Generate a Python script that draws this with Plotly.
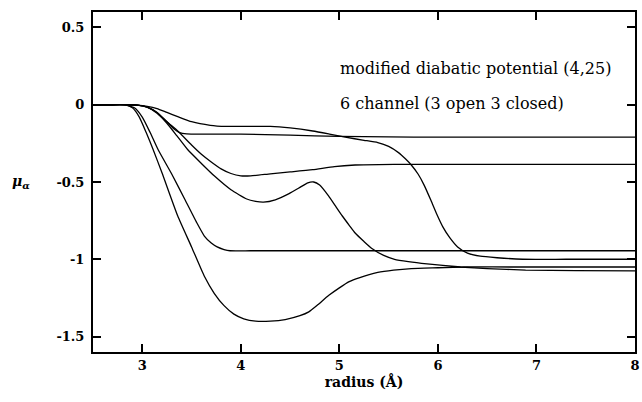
import plotly.graph_objects as go

# Curve data (radius in Å, mu_alpha)
c1_x = [2.5, 2.7, 2.85, 2.95, 3.05, 3.15, 3.25, 3.36, 3.5, 3.69, 3.85, 4.0, 4.3, 4.5, 4.73, 4.9, 5.06, 5.25, 5.39, 5.5, 5.6, 5.67, 5.73, 5.8, 5.86, 5.93, 5.99, 6.05, 6.12, 6.2, 6.3, 6.43, 6.6, 6.86, 7.3, 8.0]
c1_y = [0, 0, 0, -0.002, -0.01, -0.025, -0.05, -0.077, -0.11, -0.133, -0.14, -0.14, -0.14, -0.15, -0.17, -0.19, -0.21, -0.23, -0.245, -0.27, -0.31, -0.35, -0.39, -0.45, -0.52, -0.62, -0.71, -0.79, -0.86, -0.92, -0.96, -0.98, -0.99, -1.0, -1.0, -1.0]

c2_x = [2.5, 2.7, 2.85, 2.95, 3.05, 3.15, 3.25, 3.32, 3.38, 3.45, 3.6, 4.0, 4.5, 5.0, 5.5, 6.0, 7.0, 8.0]
c2_y = [0, 0, 0, -0.002, -0.015, -0.05, -0.11, -0.155, -0.18, -0.188, -0.19, -0.19, -0.197, -0.205, -0.208, -0.21, -0.21, -0.21]

c3_x = [2.5, 2.7, 2.85, 2.95, 3.05, 3.15, 3.25, 3.36, 3.5, 3.6, 3.7, 3.8, 3.9, 4.0, 4.1, 4.3, 4.5, 4.73, 4.95, 5.16, 5.4, 5.7, 6.5, 7.3, 8.0]
c3_y = [0, 0, 0, -0.002, -0.015, -0.05, -0.11, -0.17, -0.26, -0.32, -0.37, -0.415, -0.445, -0.46, -0.46, -0.447, -0.435, -0.42, -0.40, -0.39, -0.387, -0.386, -0.386, -0.386, -0.386]

c4_x = [2.5, 2.7, 2.85, 2.95, 3.05, 3.15, 3.25, 3.35, 3.46, 3.6, 3.73, 3.9, 4.06, 4.15, 4.23, 4.35, 4.49, 4.6, 4.68, 4.74, 4.8, 4.89, 4.96, 5.03, 5.1, 5.16, 5.25, 5.33, 5.45, 5.56, 5.7, 5.89, 6.05, 6.23, 6.5, 6.89, 7.4, 8.0]
c4_y = [0, 0, 0, -0.002, -0.015, -0.055, -0.12, -0.2, -0.29, -0.38, -0.46, -0.55, -0.61, -0.625, -0.63, -0.615, -0.575, -0.535, -0.505, -0.50, -0.52, -0.59, -0.655, -0.72, -0.78, -0.83, -0.885, -0.93, -0.975, -1.0, -1.015, -1.03, -1.04, -1.05, -1.06, -1.07, -1.073, -1.075]

c5_x = [2.5, 2.7, 2.82, 2.9, 2.97, 3.04, 3.11, 3.2, 3.36, 3.5, 3.63, 3.73, 3.83, 3.93, 4.03, 4.15, 4.3, 4.45, 4.6, 4.69, 4.78, 4.89, 5.0, 5.1, 5.2, 5.39, 5.55, 5.73, 6.0, 6.3, 6.8, 7.4, 8.0]
c5_y = [0, 0, 0, -0.02, -0.08, -0.18, -0.29, -0.44, -0.72, -0.92, -1.11, -1.22, -1.30, -1.355, -1.385, -1.40, -1.40, -1.39, -1.365, -1.34, -1.295, -1.235, -1.185, -1.145, -1.12, -1.085, -1.07, -1.06, -1.055, -1.05, -1.05, -1.05, -1.05]

c6_x = [2.5, 2.7, 2.82, 2.92, 3.0, 3.08, 3.16, 3.3, 3.43, 3.55, 3.63, 3.7, 3.76, 3.83, 3.89, 4.1, 4.6, 5.5, 6.5, 7.3, 8.0]
c6_y = [0, 0, 0, -0.02, -0.08, -0.18, -0.29, -0.45, -0.61, -0.76, -0.85, -0.895, -0.92, -0.937, -0.945, -0.945, -0.945, -0.945, -0.945, -0.945, -0.945]

curves = [(c1_x, c1_y), (c2_x, c2_y), (c3_x, c3_y), (c4_x, c4_y), (c5_x, c5_y), (c6_x, c6_y)]

x_ticks = [3, 4, 5, 6, 7, 8]
y_ticks = [-1.5, -1, -0.5, 0, 0.5]
y_tick_text = ["-1.5", "-1", "-0.5", "0", "0.5"]

fig = go.Figure()
for xs, ys in curves:
    fig.add_trace(go.Scatter(x=xs, y=ys, mode="lines",
                             line=dict(color="black", width=1.3, shape="spline", smoothing=0.5),
                             showlegend=False, hoverinfo="skip"))

tick_font = dict(family="DejaVu Serif", size=13, color="black", weight="bold")

fig.update_xaxes(range=[2.5, 8], tickvals=x_ticks, ticktext=[str(v) for v in x_ticks],
                 ticks="inside", ticklen=8, tickwidth=2, tickcolor="black",
                 showline=True, linewidth=2, linecolor="black", mirror="ticks",
                 showgrid=False, zeroline=False, tickfont=tick_font, ticklabeloverflow="allow",
                 title=dict(text="radius (Å)", font=dict(family="DejaVu Serif", size=14, color="black", weight="bold"), standoff=6))
fig.update_yaxes(range=[-1.6, 0.6], tickvals=y_ticks, ticktext=y_tick_text,
                 ticks="inside", ticklen=8, tickwidth=2, tickcolor="black",
                 showline=True, linewidth=2, linecolor="black", mirror="ticks",
                 showgrid=False, zeroline=False, tickfont=tick_font, ticklabelstandoff=4)

ann_font = dict(family="DejaVu Serif", size=16, color="black")
fig.add_annotation(x=4.99, y=0.235, xref="x", yref="y", text="modified diabatic potential (4,25)",
                   showarrow=False, xanchor="left", yanchor="middle", font=ann_font)
fig.add_annotation(x=4.99, y=0.005, xref="x", yref="y", text="6 channel (3 open 3 closed)",
                   showarrow=False, xanchor="left", yanchor="middle", font=ann_font)
fig.add_annotation(x=-0.133, y=-0.5, xref="paper", yref="y", text="<b><i>μ<sub>α</sub></i></b>",
                   showarrow=False, xanchor="center", yanchor="middle",
                   font=dict(family="DejaVu Serif", size=14, color="black"))

fig.update_layout(width=642, height=402, margin=dict(l=93, r=2, t=12, b=50),
                  paper_bgcolor="white", plot_bgcolor="white")

fig.write_html("out.html")
